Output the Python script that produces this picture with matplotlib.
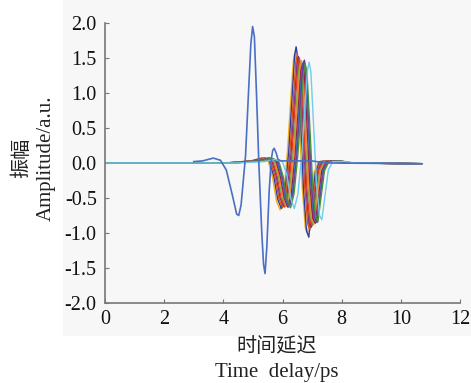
import numpy as np
import matplotlib
matplotlib.use("Agg")
import matplotlib.pyplot as plt
from matplotlib.patches import Rectangle

# reference pulse (blue), time in ps
ref_t = [3.0, 3.3, 3.66, 3.9, 4.1, 4.3, 4.45, 4.52, 4.6, 4.75, 4.85, 4.93, 4.99, 5.05,
         5.12, 5.2, 5.3, 5.36, 5.41, 5.47, 5.55, 5.62, 5.67, 5.72, 5.78, 5.85, 5.95,
         6.5, 7.0, 7.3, 7.6, 10.7]
ref_amp = [0.02, 0.03, 0.07, 0.04, -0.1, -0.45, -0.73, -0.75, -0.6, 0.1, 1.0, 1.7, 1.95, 1.8,
           1.0, 0.0, -1.0, -1.45, -1.58, -1.2, -0.4, 0.05, 0.18, 0.21, 0.15, 0.05, 0.03,
           0.03, 0.03, 0.01, 0.0, -0.01]

# sample pulses: time offsets relative to main peak, per-curve peak delay and amplitudes
pulse_dt = [-2.4, -1.5, -1.15, -0.9, -0.75, -0.62, -0.5, -0.38, -0.25, -0.12, -0.05, 0.0,
            0.06, 0.15, 0.25, 0.35, 0.43, 0.52, 0.65, 0.8, 1.2, 1.6]
peak_delay = [6.42, 6.46, 6.50, 6.54, 6.57, 6.61, 6.64, 6.68, 6.71, 6.74, 6.77, 6.90]
pulse_amp = [
    [0, 0.03, 0.07, 0.03, -0.22, -0.55, -0.67, -0.46, 0.18, 1.05, 1.47, 1.58, 1.42, 0.62, -0.36, -0.92, -1.00, -0.62, -0.13, 0.02, 0.03, 0.00],
    [0, 0.03, 0.07, 0.03, -0.20, -0.52, -0.65, -0.44, 0.16, 1.05, 1.54, 1.66, 1.49, 0.64, -0.38, -0.97, -1.06, -0.64, -0.13, 0.02, 0.03, 0.00],
    [0, 0.03, 0.07, 0.03, -0.20, -0.51, -0.64, -0.44, 0.15, 1.00, 1.44, 1.55, 1.40, 0.60, -0.35, -0.87, -0.95, -0.60, -0.12, 0.02, 0.03, 0.00],
    [0, 0.03, 0.07, 0.03, -0.19, -0.50, -0.62, -0.43, 0.14, 0.98, 1.41, 1.52, 1.37, 0.59, -0.34, -0.85, -0.92, -0.58, -0.12, 0.02, 0.03, 0.00],
    [0, 0.03, 0.07, 0.03, -0.19, -0.50, -0.63, -0.44, 0.14, 0.97, 1.40, 1.50, 1.35, 0.58, -0.34, -0.83, -0.90, -0.57, -0.11, 0.02, 0.03, 0.00],
    [0, 0.03, 0.07, 0.03, -0.18, -0.49, -0.62, -0.43, 0.13, 0.95, 1.35, 1.45, 1.31, 0.56, -0.33, -0.81, -0.88, -0.56, -0.11, 0.02, 0.03, 0.00],
    [0, 0.03, 0.07, 0.03, -0.18, -0.49, -0.62, -0.43, 0.13, 0.95, 1.36, 1.46, 1.31, 0.56, -0.33, -0.80, -0.87, -0.55, -0.11, 0.02, 0.03, 0.00],
    [0, 0.03, 0.07, 0.03, -0.19, -0.50, -0.63, -0.44, 0.12, 0.93, 1.32, 1.42, 1.28, 0.55, -0.33, -0.79, -0.86, -0.55, -0.11, 0.02, 0.03, 0.00],
    [0, 0.03, 0.07, 0.03, -0.19, -0.50, -0.63, -0.44, 0.13, 0.95, 1.35, 1.45, 1.30, 0.56, -0.33, -0.78, -0.85, -0.54, -0.11, 0.02, 0.03, 0.00],
    [0, 0.03, 0.07, 0.03, -0.18, -0.49, -0.62, -0.43, 0.13, 0.96, 1.37, 1.47, 1.32, 0.57, -0.33, -0.78, -0.85, -0.54, -0.11, 0.02, 0.03, 0.00],
    [0, 0.03, 0.07, 0.03, -0.19, -0.51, -0.64, -0.44, 0.12, 0.92, 1.31, 1.41, 1.27, 0.55, -0.32, -0.77, -0.84, -0.53, -0.11, 0.02, 0.03, 0.00],
    [0, 0.02, 0.05, 0.02, -0.18, -0.51, -0.65, -0.45, 0.12, 0.94, 1.34, 1.44, 1.30, 0.55, -0.31, -0.75, -0.81, -0.52, -0.10, 0.02, 0.02, 0.00],
]
pulse_colors = ["#EDB120", "#2E3E9A", "#D95319", "#7E2F8E", "#E03A2A", "#77AC30",
                "#F08A3A", "#A2142F", "#3A6FC8", "#6A3A9E", "#4F8F3A", "#6CCDF0"]
t_start = 0.0
t_end = 10.7

xticks = [0, 2, 4, 6, 8, 10, 12]
yticks = [-2.0, -1.5, -1.0, -0.5, 0.0, 0.5, 1.0, 1.5, 2.0]

plt.rcParams["font.family"] = ["Liberation Serif", "Noto Sans CJK SC"]

fig = plt.figure(figsize=(4.71, 3.83), dpi=100)
fig.patches.append(Rectangle((63/471, 1 - 335/383), 1, 1, transform=fig.transFigure,
                             color="#f7f7f7", zorder=-10))
ax = fig.add_axes([105/471, 1 - 303/383, 355/471, 280/383])
ax.set_facecolor("none")

for d, amp, c in zip(peak_delay, pulse_amp, pulse_colors):
    x = [t_start] + [d + dt for dt in pulse_dt] + [t_end]
    y = [0.0] + amp + [-0.01]
    ax.plot(x, y, color=c, lw=1.0)

ax.plot(ref_t, ref_amp, color="#4A6FC4", lw=1.2)

ax.set_xlim(0, 12)
ax.set_ylim(-2, 2)
ax.set_xticks(xticks)
ax.set_yticks(yticks)
ax.set_yticklabels([f"{v:.1f}" for v in yticks])
for s in ["top", "right"]:
    ax.spines[s].set_visible(False)
for s in ["left", "bottom"]:
    ax.spines[s].set_color("#777777")
    ax.spines[s].set_linewidth(1.2)
ax.tick_params(direction="in", length=3, color="#777777", labelsize=14.5, labelcolor="#111111")
ax.tick_params(axis="x", pad=5)
ax.tick_params(axis="y", pad=6)

fig.text(277/471, 1 - 347/383, "时间延迟", ha="center", va="center", fontsize=14.5,
         family=["Noto Sans CJK SC"], color="#222222")
fig.text(277/471, 1 - 373/383, "Time  delay/ps", ha="center", va="center", fontsize=15,
         color="#222222")
fig.text(22/471, 1 - 158/383, "振幅", ha="center", va="center", rotation=90, fontsize=14.5,
         family=["Noto Sans CJK SC"], color="#222222")
fig.text(46/471, 1 - 158/383, "Amplitude/a.u.", ha="center", va="center", rotation=90,
         fontsize=15, color="#222222")

fig.savefig("out.png", dpi=100)
